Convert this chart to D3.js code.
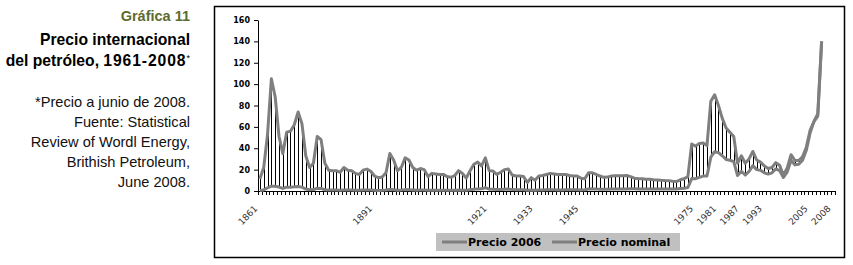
<!DOCTYPE html>
<html>
<head>
<meta charset="utf-8">
<script src="https://cdn.jsdelivr.net/npm/d3@7"></script>
<style>
  html, body { margin: 0; padding: 0; background: #ffffff; }
  svg { display: block; }
</style>
</head>
<body>
<svg id="chart" width="853" height="265"></svg>
<script>
// ---------------- DATA ----------------
const years = d3.range(1861, 2009); // 1861..2008
// Precio 2006 (US$ de 2006 por barril)
const precio2006 = [
  11.5, 22, 53, 105, 88, 51, 35, 55, 56, 62,          // 1861-1870
  74, 63, 33, 22, 26, 51, 48, 26, 19.5, 19,           // 1871-1880
  19, 17.5, 22, 19.5, 19, 16.5, 15.5, 19.5, 20.5, 18.5, // 1881-1890
  14, 12.5, 13, 17, 35, 29, 19, 22, 31, 29,           // 1891-1900
  22, 19.5, 21, 20, 13.5, 16.5, 16, 15.5, 15.5, 13.5, // 1901-1910
  12.8, 14.5, 19, 16.5, 12, 19, 25, 27, 23.5, 31,     // 1911-1920
  19, 18.7, 15.5, 17.5, 20, 20.6, 15, 14, 14, 13.5,   // 1921-1930
  8, 12.5, 10, 14, 14.5, 15.5, 16.5, 16, 15.5, 15.5,  // 1931-1940
  15.5, 14.5, 14, 14, 12, 11.5, 17, 17, 15.5, 14,     // 1941-1950
  12.8, 13, 14, 14.3, 14.3, 14.3, 14.5, 13.5, 12, 11.5, // 1951-1960
  11.5, 11, 10.9, 10.5, 10.3, 10, 9.8, 9.7, 9.2, 8.8, // 1961-1970
  10.5, 11.5, 13.5, 44, 42, 44.5, 45, 42.5, 84, 90,   // 1971-1980
  80, 68, 59, 55, 51, 26, 33, 26, 30, 37,             // 1981-1990
  29, 27, 23.5, 21, 22, 26.5, 24, 15, 21.5, 34,       // 1991-2000
  28.5, 28.5, 32, 41, 57, 65, 70, 140                 // 2001-2008
];
// Precio nominal (US$ corrientes por barril)
const precioNominal = [
  0.5, 1.0, 3.0, 4.5, 4.5, 3.7, 2.4, 3.6, 3.6, 3.9,
  4.3, 3.6, 1.8, 1.2, 1.35, 2.6, 2.4, 1.2, 0.9, 0.95,
  0.86, 0.78, 1.0, 0.84, 0.88, 0.71, 0.67, 0.88, 0.94, 0.87,
  0.67, 0.56, 0.64, 0.84, 1.36, 1.18, 0.79, 0.91, 1.29, 1.19,
  0.96, 0.8, 0.94, 0.86, 0.62, 0.73, 0.72, 0.72, 0.7, 0.61,
  0.61, 0.74, 0.95, 0.81, 0.64, 1.1, 1.56, 1.98, 2.01, 3.07,
  1.73, 1.61, 1.34, 1.43, 1.68, 1.88, 1.3, 1.17, 1.27, 1.19,
  0.65, 0.87, 0.67, 1.0, 0.97, 1.09, 1.18, 1.13, 1.02, 1.02,
  1.14, 1.19, 1.2, 1.21, 1.05, 1.12, 1.9, 1.99, 1.78, 1.71,
  1.71, 1.71, 1.93, 1.93, 1.93, 1.93, 1.9, 2.08, 2.08, 1.9,
  1.8, 1.8, 1.8, 1.8, 1.8, 1.8, 1.8, 1.8, 1.8, 1.8,
  2.24, 2.48, 3.29, 11.58, 11.53, 12.8, 13.92, 14.02, 31.61, 36.83,
  35.93, 32.97, 29.55, 28.78, 27.56, 14.43, 18.44, 14.92, 18.23, 23.73,
  20.0, 19.32, 16.97, 15.82, 17.02, 20.67, 19.09, 12.72, 17.97, 28.5,
  24.44, 25.02, 28.83, 38.27, 54.52, 65.14, 72.39, 140
];
// category axis: the years plus three empty trailing categories
const axisCategories = years.map(String).concat(["_a", "_b", "_c"]);
const tickLabelCats  = ["1861","1891","1921","1933","1945","1975","1981","1987","1993","2005","_c"];
const tickLabelTexts = ["1861","1891","1921","1933","1945","1975","1981","1987","1993","2005","2008"];
const yTicks = [0, 20, 40, 60, 80, 100, 120, 140, 160];
const seriesNames = ["Precio 2006", "Precio nominal"];

// ---------------- DRAW ----------------
const svg = d3.select("#chart");
const lineColor = "#7f7f7f";

// left text block
const txt = svg.append("g").attr("font-family", "'Liberation Sans', Arial, sans-serif").attr("text-anchor", "end");
txt.append("text").attr("x", 190).attr("y", 21).attr("font-size", 14.5).attr("font-weight", "bold")
  .attr("fill", "#5d6b2e").text("Gráfica 11");
txt.append("text").attr("x", 190).attr("y", 45).attr("font-size", 15.7).attr("font-weight", "bold")
  .attr("fill", "#000").text("Precio internacional");
const t3 = txt.append("text").attr("x", 190).attr("y", 66).attr("font-size", 15.7).attr("font-weight", "bold").attr("fill", "#000");
t3.append("tspan").text("del petróleo, ");
t3.append("tspan").attr("letter-spacing", 0.9).text("1961-2008");
t3.append("tspan").attr("font-size", 9).attr("font-weight", "normal").attr("dy", -5).text("*");
const notes = ["*Precio a junio de 2008.", "Fuente: Statistical", "Review of Wordl Energy,", "Brithish Petroleum,", "June 2008."];
notes.forEach((s, i) => {
  txt.append("text").attr("x", 190).attr("y", 107 + i * 20.1).attr("font-size", 14.6).attr("fill", "#111").text(s);
});

// chart frame
svg.append("rect").attr("x", 214.5).attr("y", 6.5).attr("width", 630).attr("height", 251)
  .attr("fill", "none").attr("stroke", "#000").attr("stroke-width", 1.5);

const plotLeft = 258, plotRight = 835, plotTop = 20, plotBottom = 191;
const x = d3.scaleBand().domain(axisCategories).range([plotLeft, plotRight]).paddingInner(0).paddingOuter(0);
const xEdge = d3.scaleLinear().domain([0, axisCategories.length]).range([plotLeft, plotRight]);
const y = d3.scaleLinear().domain([0, 160]).range([plotBottom, plotTop]);
const cx = yr => x(String(yr)) + x.bandwidth() / 2;

// y axis
const yAxis = svg.append("g").attr("transform", `translate(${plotLeft},0)`)
  .call(d3.axisLeft(y).tickValues(yTicks).tickSize(4).tickSizeOuter(0).tickPadding(4));
yAxis.select(".domain").attr("stroke", "#000");
yAxis.selectAll(".tick line").attr("stroke", "#000");
yAxis.selectAll("text").attr("font-family", "'DejaVu Sans', sans-serif").attr("font-size", 8)
  .attr("font-weight", "bold").attr("fill", "#000");

// x axis (tick marks at category boundaries)
const xAxis = svg.append("g").attr("transform", `translate(0,${plotBottom})`)
  .call(d3.axisBottom(xEdge).tickValues(d3.range(0, axisCategories.length + 1)).tickSize(4).tickSizeOuter(0).tickFormat(""));
xAxis.select(".domain").attr("stroke", "#000");
xAxis.selectAll(".tick line").attr("stroke", "#000").attr("shape-rendering", "crispEdges");

// x labels
svg.append("g").selectAll("text").data(tickLabelCats).join("text")
  .attr("transform", (c) => `translate(${x(c) + x.bandwidth() / 2 - 4},${plotBottom + 16}) rotate(-45)`)
  .attr("text-anchor", "end").attr("dy", "0.35em")
  .attr("font-family", "'DejaVu Sans', sans-serif").attr("font-size", 9).attr("fill", "#333")
  .text((c, i) => tickLabelTexts[i]);

// high-low lines
svg.append("g").selectAll("line").data(years).join("line")
  .attr("x1", (d) => Math.round(cx(d)) + 0.5).attr("x2", (d) => Math.round(cx(d)) + 0.5)
  .attr("y1", (d, i) => y(precio2006[i])).attr("y2", (d, i) => y(precioNominal[i]))
  .attr("stroke", "#000").attr("stroke-width", 1);

// series lines
const line = d3.line().x((d) => cx(d[0])).y((d) => y(d[1]));
[precioNominal, precio2006].forEach((vals) => {
  svg.append("path").datum(years.map((yr, i) => [yr, vals[i]]))
    .attr("d", line).attr("fill", "none").attr("stroke", lineColor)
    .attr("stroke-width", 3).attr("stroke-linejoin", "round");
});

// legend
const lg = svg.append("g");
lg.append("rect").attr("x", 436).attr("y", 233).attr("width", 244).attr("height", 18).attr("fill", "#c0c0c0");
const legendItems = [{x: 442, name: seriesNames[0]}, {x: 552, name: seriesNames[1]}];
legendItems.forEach((it) => {
  lg.append("line").attr("x1", it.x).attr("x2", it.x + 25).attr("y1", 242).attr("y2", 242)
    .attr("stroke", lineColor).attr("stroke-width", 3);
  lg.append("text").attr("x", it.x + 26).attr("y", 246).attr("font-family", "'DejaVu Sans', sans-serif")
    .attr("font-size", 11).attr("font-weight", "bold").attr("fill", "#000").text(it.name);
});
</script>
</body>
</html>
